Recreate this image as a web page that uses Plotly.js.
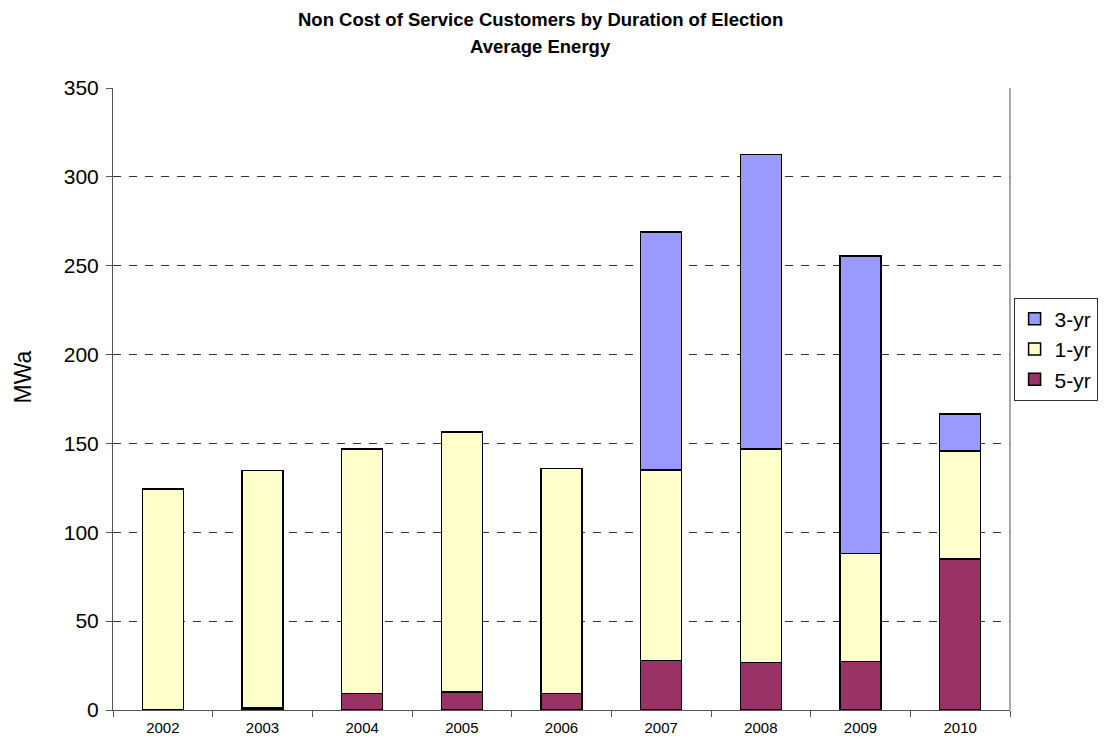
<!DOCTYPE html>
<html>
<head>
<meta charset="utf-8">
<script src="https://cdn.plot.ly/plotly-3.0.1.min.js"></script>
<style>
  html, body { margin: 0; padding: 0; background: #fff; }
  #chart { width: 1110px; height: 742px; }
</style>
</head>
<body>
<div id="chart"></div>
<script>
// Election years
const years = ['2002', '2003', '2004', '2005', '2006', '2007', '2008', '2009', '2010'];

// Average energy (MWa) by duration of election, stacked bottom to top (null = no election of that kind)
const fiveYr  = [null, 1, 9.4, 10, 9.4, 27.8, 26.8, 27.4, 85];
const oneYr   = [124.4, 133.7, 137.6, 146.5, 126.6, 107.2, 120.2, 60.6, 60.8];
const threeYr = [null, null, null, null, null, 134, 165.5, 167.6, 20.9];

// Title lines and value-axis label
const titleLines = ['Non Cost of Service Customers by Duration of Election', 'Average Energy'];
const yLabel = 'MWa';

const font = 'Liberation Sans, Arial, sans-serif';
const outline = { color: '#000', width: 1.5 };

function series(name, values, color, rank) {
  return {
    type: 'bar', name: name, x: years, y: values,
    width: 0.41, legendrank: rank,
    marker: { color: color, line: outline },
    hoverinfo: 'x+y+name'
  };
}

const data = [
  series('5-yr', fiveYr, '#993366', 3),
  series('1-yr', oneYr, '#FFFFCC', 2),
  series('3-yr', threeYr, '#9999FF', 1)
];

const titleAnnotations = titleLines.map((t, i) => ({
  text: '<b>' + t + '</b>',
  xref: 'paper', yref: 'paper',
  x: 0.477, xanchor: 'center',
  y: 1 + (68 - 26 * i) / 622, yanchor: 'middle',
  showarrow: false,
  font: { family: font, size: 18.5, color: '#000' }
}));

const yLabelAnnotation = {
  text: yLabel, textangle: -90,
  xref: 'paper', yref: 'paper',
  x: -0.1, xanchor: 'center',
  y: 0.535, yanchor: 'middle',
  showarrow: false,
  font: { family: font, size: 23, color: '#000' }
};

const layout = {
  width: 1110, height: 742,
  margin: { l: 113, r: 97, t: 88, b: 32 },
  paper_bgcolor: '#fff', plot_bgcolor: '#fff',
  barmode: 'stack',
  font: { family: font, color: '#000' },
  annotations: titleAnnotations.concat([yLabelAnnotation]),
  xaxis: {
    type: 'category',
    tickson: 'boundaries',
    ticks: 'outside', ticklen: 6, tickcolor: '#555',
    showline: true, linecolor: '#555', linewidth: 1,
    tickfont: { family: font, size: 15, color: '#000' },
    ticklabelstandoff: 4,
    showgrid: false, fixedrange: true
  },
  yaxis: {
    range: [0, 350],
    tickvals: [0, 50, 100, 150, 200, 250, 300, 350],
    ticks: 'outside', ticklen: 6, tickcolor: '#555',
    showline: true, linecolor: '#555', linewidth: 1,
    showgrid: true, gridcolor: '#333', gridwidth: 1, griddash: '8px,8px',
    zeroline: false,
    tickfont: { family: font, size: 21, color: '#000' },
    ticklabelstandoff: 3,
    fixedrange: true
  },
  shapes: [
    { type: 'line', xref: 'paper', yref: 'paper', x0: 1, x1: 1, y0: 0, y1: 1,
      line: { color: '#888', width: 1.5 } }
  ],
  legend: {
    x: 1.004, xanchor: 'left', y: 0.663, yanchor: 'top',
    traceorder: 'normal', tracegroupgap: 9,
    bordercolor: '#333', borderwidth: 1, bgcolor: '#fff',
    font: { family: font, size: 21, color: '#000' },
    itemwidth: 30
  },
  bargap: 0.59
};

Plotly.newPlot('chart', data, layout, { displayModeBar: false, staticPlot: true });
</script>
</body>
</html>
